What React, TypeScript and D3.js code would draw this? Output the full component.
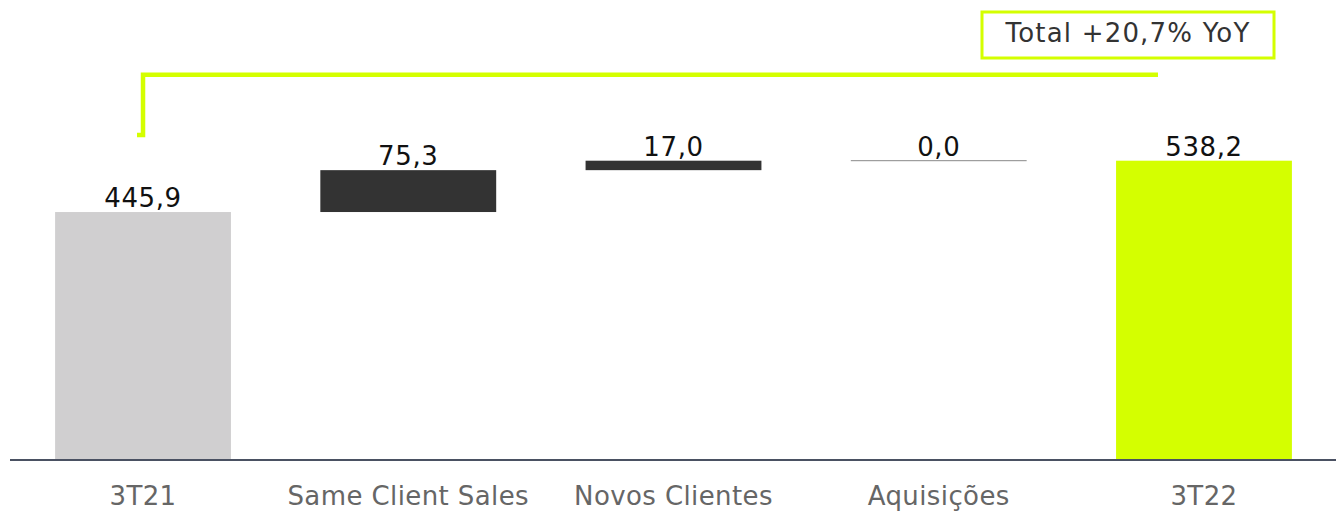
import React from "react";
import * as d3 from "d3";

const categories = ["3T21", "Same Client Sales", "Novos Clientes", "Aquisições", "3T22"];
const values = [445.9, 75.3, 17.0, 0.0, 538.2];
const kinds = ["total", "delta", "delta", "delta", "total"];
const valueLabels = ["445,9", "75,3", "17,0", "0,0", "538,2"];
const annotationText = "Total +20,7% YoY";

const W = 1337;
const H = 511;
const LIME = "#d4ff00";

export default function App() {
  const x = d3.scaleBand<string>().domain(categories).range([10, 1337]).paddingInner(0.337).paddingOuter(0.17);
  const y = d3.scaleLinear().domain([0, 538.2]).range([460, 160.7]);

  let running = 0;
  const bars = categories.map((c, i) => {
    let lo: number, hi: number;
    if (kinds[i] === "total") {
      lo = 0;
      hi = values[i];
      running = values[i];
    } else {
      lo = running;
      hi = running + values[i];
      running = hi;
    }
    return { c, lo, hi, i };
  });

  const font = "'DejaVu Sans', Verdana, sans-serif";
  const x0 = x(categories[0])! + x.bandwidth() / 2;
  const xEnd = x(categories[4])! + x.bandwidth() / 2 - 46;
  const yTop = y(538.2) - 86;
  const yBot = y(445.9) - 77;

  return (
    <svg width={W} height={H} style={{ position: "absolute", left: 0, top: 0 }}>
      {bars.map((b) => {
        const bx = x(b.c)!;
        const bw = x.bandwidth();
        const top = y(b.hi);
        const h = y(b.lo) - y(b.hi);
        const fill = b.i === 0 ? "#d0cfd0" : b.i === 4 ? LIME : "#333333";
        return (
          <g key={b.c}>
            {h > 0.5 ? (
              <rect x={bx} y={top} width={bw} height={h} fill={fill} />
            ) : (
              <line x1={bx} x2={bx + bw} y1={top} y2={top} stroke="#888" strokeWidth={1} />
            )}
            <text x={bx + bw / 2} y={top - 5} textAnchor="middle" fontFamily={font} fontSize={26} letterSpacing={0.6} fill="#111">
              {valueLabels[b.i]}
            </text>
            <text x={bx + bw / 2} y={505} textAnchor="middle" fontFamily={font} fontSize={26} letterSpacing={0.4} fill="#666">
              {b.c}
            </text>
          </g>
        );
      })}
      <line x1={10} x2={1336} y1={y(0)} y2={y(0)} stroke="#4a5162" strokeWidth={2} />
      <path
        d={`M${x0 - 6},${yBot} L${x0},${yBot} L${x0},${yTop} L${xEnd},${yTop}`}
        fill="none"
        stroke={LIME}
        strokeWidth={4.5}
      />
      <rect x={982} y={12} width={292} height={46} fill="#fff" stroke={LIME} strokeWidth={3} />
      <text x={1128} y={42} textAnchor="middle" fontFamily={font} fontSize={26} letterSpacing={1.2} fill="#333">
        {annotationText}
      </text>
    </svg>
  );
}
